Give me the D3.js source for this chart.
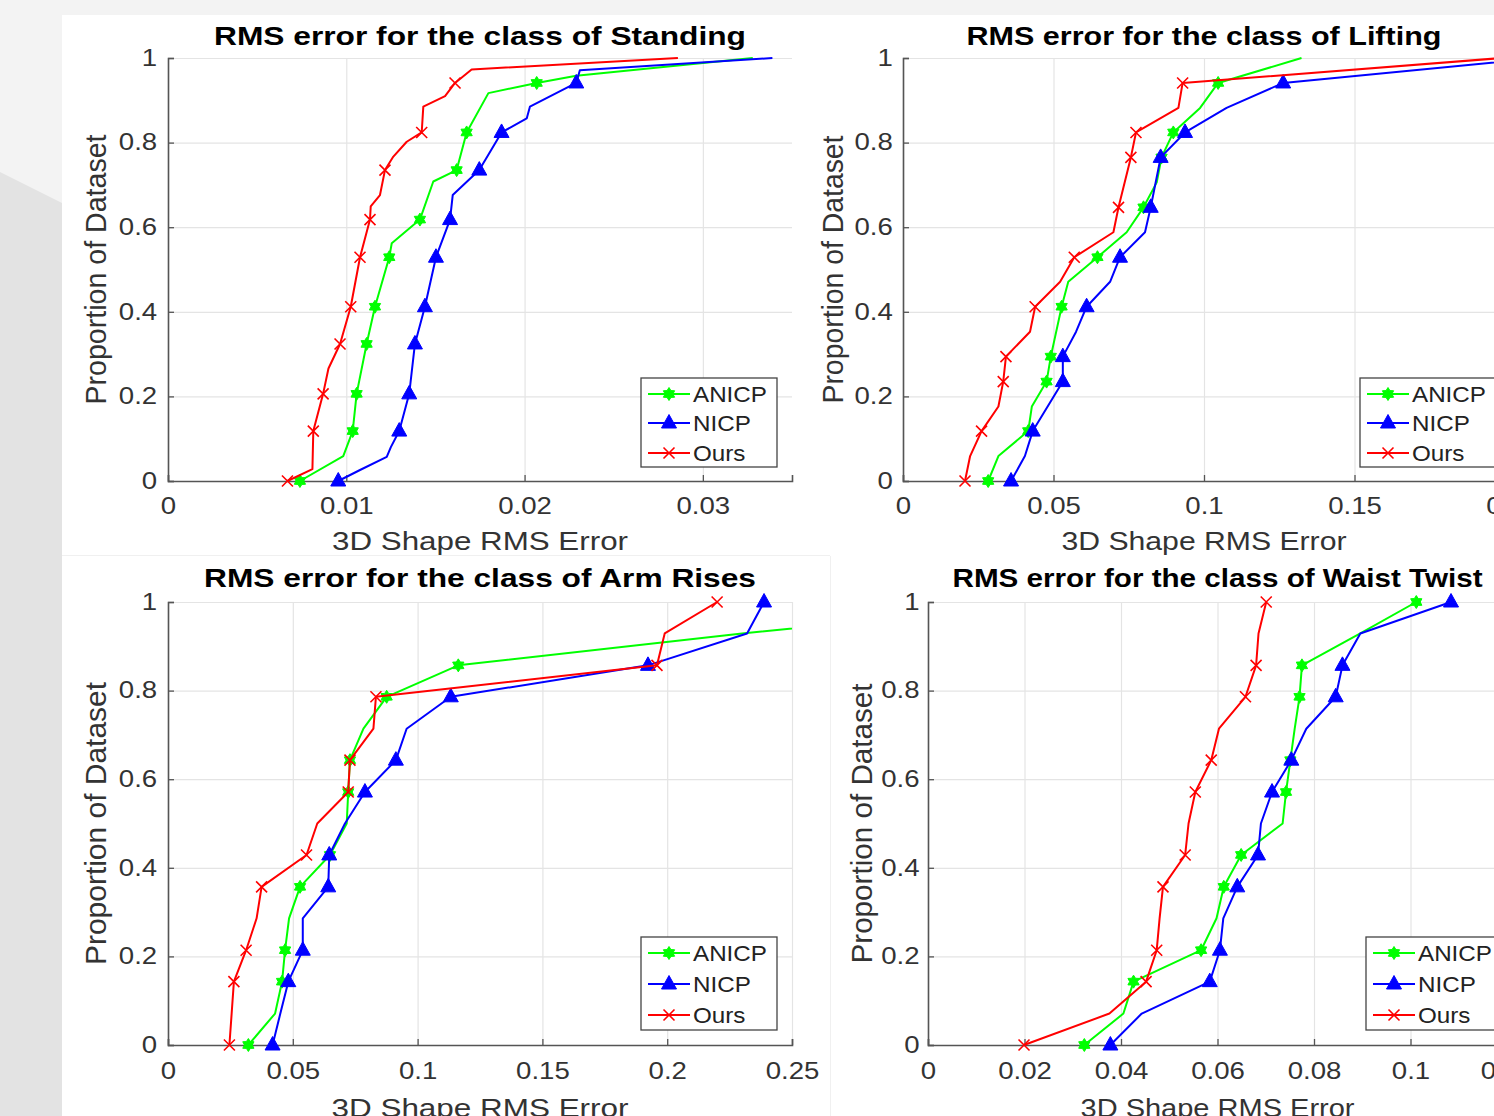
<!DOCTYPE html>
<html>
<head>
<meta charset="utf-8">
<script src="https://cdn.jsdelivr.net/npm/d3@7"></script>
<style>
html, body { margin: 0; padding: 0; background: #f3f3f3; }
svg { display: block; font-family: "Liberation Sans", Arial, Helvetica, sans-serif; }
</style>
</head>
<body>
<div id="chart"></div>
<script>
// Size of the page;
const W = 1494
const H = 1116

// Series names, in the legend's order;
const seriesNames = ["ANICP", "NICP", "Ours"]

// Y axis, shared by the four plots;
const yTicks = [0, 0.2, 0.4, 0.6, 0.8, 1]
const yTickLabels = ["0", "0.2", "0.4", "0.6", "0.8", "1"]

// Class of Standing;
const standingTicks = [0, 0.01, 0.02, 0.03]
const standingTickLabels = ["0", "0.01", "0.02", "0.03"]
const standingAnicp = [[0.0074, 0], [0.00983, 0.059], [0.01036, 0.118], [0.01058, 0.206], [0.01114, 0.324], [0.01161, 0.412], [0.01241, 0.529], [0.01255, 0.562], [0.01413, 0.618], [0.01488, 0.708], [0.01619, 0.735], [0.01675, 0.824], [0.01797, 0.917], [0.02068, 0.941], [0.0229, 0.958], [0.0328, 1]]
const standingAnicpMarks = [0, 2, 3, 4, 5, 6, 8, 10, 11, 13]
const standingNicp = [[0.00955, 0], [0.01077, 0.026], [0.01227, 0.057], [0.0125, 0.08], [0.01297, 0.118], [0.01353, 0.206], [0.01385, 0.324], [0.01441, 0.412], [0.01503, 0.529], [0.01582, 0.618], [0.01597, 0.676], [0.01746, 0.735], [0.01871, 0.824], [0.02012, 0.857], [0.0203, 0.885], [0.0229, 0.941], [0.0231, 0.971], [0.0339, 1]]
const standingNicpMarks = [0, 4, 5, 6, 7, 8, 9, 11, 12, 15]
const standingOurs = [[0.0067, 0], [0.0081, 0.028], [0.00815, 0.118], [0.0087, 0.206], [0.009, 0.266], [0.00965, 0.324], [0.01025, 0.412], [0.01077, 0.529], [0.01133, 0.618], [0.01137, 0.649], [0.01189, 0.676], [0.01217, 0.735], [0.01264, 0.767], [0.01339, 0.802], [0.01423, 0.824], [0.01432, 0.885], [0.01554, 0.91], [0.0161, 0.941], [0.01703, 0.973], [0.0286, 1]]
const standingOursMarks = [0, 2, 3, 5, 6, 7, 8, 11, 14, 17]

// Class of Lifting;
const liftingTicks = [0, 0.05, 0.1, 0.15, 0.2]
const liftingTickLabels = ["0", "0.05", "0.1", "0.15", "0.2"]
const liftingAnicp = [[0.0283, 0], [0.0317, 0.059], [0.0416, 0.118], [0.0428, 0.176], [0.0477, 0.235], [0.0491, 0.294], [0.0527, 0.412], [0.0549, 0.471], [0.0646, 0.529], [0.0743, 0.588], [0.0799, 0.647], [0.0843, 0.706], [0.0859, 0.765], [0.0898, 0.824], [0.0987, 0.882], [0.1047, 0.941], [0.1324, 1]]
const liftingAnicpMarks = [0, 2, 4, 5, 6, 8, 10, 12, 13, 15]
const liftingNicp = [[0.0359, 0], [0.0405, 0.059], [0.0431, 0.118], [0.0531, 0.235], [0.0531, 0.294], [0.0575, 0.353], [0.061, 0.412], [0.0688, 0.471], [0.0721, 0.529], [0.0804, 0.588], [0.0823, 0.647], [0.0856, 0.765], [0.0937, 0.824], [0.1075, 0.882], [0.1263, 0.941], [0.212, 1]]
const liftingNicpMarks = [0, 2, 3, 4, 6, 8, 10, 11, 12, 14]
const liftingOurs = [[0.0206, 0], [0.0223, 0.059], [0.0261, 0.118], [0.0317, 0.176], [0.0333, 0.235], [0.0342, 0.294], [0.0422, 0.353], [0.0439, 0.412], [0.0522, 0.471], [0.0569, 0.529], [0.0699, 0.588], [0.0716, 0.647], [0.0757, 0.765], [0.0774, 0.824], [0.0915, 0.882], [0.0929, 0.941], [0.199, 1]]
const liftingOursMarks = [0, 2, 4, 5, 7, 9, 11, 12, 13, 15]

// Class of Arm Rises;
const armTicks = [0, 0.05, 0.1, 0.15, 0.2, 0.25]
const armTickLabels = ["0", "0.05", "0.1", "0.15", "0.2", "0.25"]
const armAnicp = [[0.0322, 0], [0.0429, 0.071], [0.0457, 0.143], [0.0469, 0.214], [0.0485, 0.286], [0.0529, 0.357], [0.0649, 0.429], [0.0716, 0.5], [0.0722, 0.571], [0.0729, 0.643], [0.0783, 0.714], [0.0876, 0.786], [0.1163, 0.857], [0.23, 0.929], [0.36, 1]]
const armNicp = [[0.0419, 0], [0.045, 0.071], [0.0482, 0.143], [0.054, 0.214], [0.054, 0.286], [0.0642, 0.357], [0.0646, 0.429], [0.0709, 0.5], [0.0789, 0.571], [0.0913, 0.643], [0.0956, 0.714], [0.1133, 0.786], [0.1923, 0.857], [0.232, 0.929], [0.2388, 1]]
const armOurs = [[0.0246, 0], [0.0255, 0.071], [0.0264, 0.143], [0.0313, 0.214], [0.0355, 0.286], [0.0375, 0.357], [0.0555, 0.429], [0.0598, 0.5], [0.0722, 0.571], [0.0729, 0.643], [0.0823, 0.714], [0.0833, 0.786], [0.1959, 0.857], [0.199, 0.929], [0.22, 1]]

// Class of Waist Twist;
const waistTicks = [0, 0.02, 0.04, 0.06, 0.08, 0.1, 0.12]
const waistTickLabels = ["0", "0.02", "0.04", "0.06", "0.08", "0.1", "0.12"]
const waistAnicp = [[0.0324, 0], [0.0405, 0.071], [0.0426, 0.143], [0.0566, 0.214], [0.0598, 0.286], [0.0613, 0.357], [0.0649, 0.429], [0.0735, 0.5], [0.0742, 0.571], [0.0751, 0.643], [0.076, 0.714], [0.077, 0.786], [0.0775, 0.857], [0.0896, 0.929], [0.1012, 1]]
const waistNicp = [[0.0378, 0], [0.0443, 0.071], [0.0584, 0.143], [0.0605, 0.214], [0.0612, 0.286], [0.0641, 0.357], [0.0684, 0.429], [0.069, 0.5], [0.0713, 0.571], [0.0753, 0.643], [0.0784, 0.714], [0.0845, 0.786], [0.0859, 0.857], [0.0896, 0.929], [0.1084, 1]]
const waistOurs = [[0.0199, 0], [0.0376, 0.071], [0.0452, 0.143], [0.0474, 0.214], [0.048, 0.286], [0.0487, 0.357], [0.0533, 0.429], [0.054, 0.5], [0.0554, 0.571], [0.0587, 0.643], [0.0603, 0.714], [0.0658, 0.786], [0.068, 0.857], [0.0685, 0.929], [0.0701, 1]]

// Marker indices for the 15-point curves;
const marks15 = [0, 2, 3, 5, 6, 8, 9, 11, 12, 14]

/////////////////////////////
/////////////////////////////

// Styles;
const colors = ["#00ff00", "#0000ff", "#ff0000"]
const markerTypes = ["hexagram", "triangle", "cross"]
const textStretch = 1.2 // The screenshot is wider than it is tall;
const legendStretch = 1.1

// Panels: data + where each one sits on the page;
const panels = [
    {
        title: "RMS error for the class of Standing", xMax: 0.035, ticks: standingTicks, tickLabels: standingTickLabels,
        series: [[standingAnicp, standingAnicpMarks], [standingNicp, standingNicpMarks], [standingOurs, standingOursMarks]],
        x0: 168, x1: 792, yTop: 58, yBot: 481, titleY: 45, titleLen: 532, xlabY: 550, xlabLen: 296,
        ylabX: 96, ylabLen: 270, yPad: 9, xPad: 16.5, legX: 641, legY: 378, legH: 89, rows: [16, 45, 75]
    },
    {
        title: "RMS error for the class of Lifting", xMax: 0.2, ticks: liftingTicks, tickLabels: liftingTickLabels,
        series: [[liftingAnicp, liftingAnicpMarks], [liftingNicp, liftingNicpMarks], [liftingOurs, liftingOursMarks]],
        x0: 903, x1: 1505, yTop: 58, yBot: 481, titleY: 45, titleLen: 475, xlabY: 550, xlabLen: 285,
        ylabX: 833, ylabLen: 268, yPad: 8.5, xPad: 16.5, legX: 1360, legY: 378, legH: 89, rows: [16, 45, 75]
    },
    {
        title: "RMS error for the class of Arm Rises", xMax: 0.25, ticks: armTicks, tickLabels: armTickLabels,
        series: [[armAnicp, marks15], [armNicp, marks15], [armOurs, marks15]],
        x0: 168, x1: 792, yTop: 602, yBot: 1045, titleY: 587, titleLen: 552, xlabY: 1117, xlabLen: 297,
        ylabX: 96, ylabLen: 283, yPad: 9, xPad: 17.5, legX: 641, legY: 937, legH: 93, rows: [16, 47, 78]
    },
    {
        title: "RMS error for the class of Waist Twist", xMax: 0.12, ticks: waistTicks, tickLabels: waistTickLabels,
        series: [[waistAnicp, marks15], [waistNicp, marks15], [waistOurs, marks15]],
        x0: 928, x1: 1507, yTop: 602, yBot: 1045, titleY: 587, titleLen: 530, xlabY: 1117, xlabLen: 274,
        ylabX: 862, ylabLen: 280, yPad: 7, xPad: 17.5, legX: 1366, legY: 937, legH: 93, rows: [16, 47, 78]
    }
]

const svg = d3.select("#chart").append("svg")
    .attr("width", W)
    .attr("height", H)

// Slide background behind the figures;
svg.append("rect").attr("width", W).attr("height", H).attr("fill", "#f3f3f3")
svg.append("polygon").attr("points", "0,172 62,203 62,1116 0,1116").attr("fill", "#e3e3e3")
svg.append("rect").attr("x", 62).attr("y", 15).attr("width", W - 62).attr("height", H - 15).attr("fill", "#fff")
svg.append("line").attr("x1", 62).attr("x2", 830).attr("y1", 555.5).attr("y2", 555.5).attr("stroke", "#f0f0f0")
svg.append("line").attr("x1", 830.5).attr("x2", 830.5).attr("y1", 556).attr("y2", H).attr("stroke", "#f0f0f0")

/////////////////////////////
/////////////////////////////

// Marker shapes, centred on 0,0;
function hexagram(r) {
    const pts = []
    for (let i = 0; i < 12; i++) {
        const a = Math.PI / 6 * i - Math.PI / 2
        const rr = i % 2 ? r * 0.6 : r
        pts.push([rr * Math.cos(a), rr * Math.sin(a)])
    }
    return "M" + pts.map(p => p[0].toFixed(2) + "," + p[1].toFixed(2)).join("L") + "Z"
}
const markerPath = {
    hexagram: hexagram(6.5),
    triangle: "M0,-8.5L7.5,5L-7.5,5Z",
    cross: "M-5.5,-5.5L5.5,5.5M5.5,-5.5L-5.5,5.5"
}

var markerStyle = (sel, type, color) => {
    if (type == "cross") {
        sel.attr("fill", "none").attr("stroke", color).attr("stroke-width", 1.6)
    } else {
        sel.attr("fill", color).attr("stroke", color).attr("stroke-width", 1)
    }
}

var stretchText = (sel, k) => sel.attr("transform", `scale(${k || textStretch},1)`)

panels.forEach((p, pi) => {
    const g = svg.append("g")

    const x = d3.scaleLinear().domain([0, p.xMax]).range([p.x0, p.x1])
    const y = d3.scaleLinear().domain([0, 1]).range([p.yBot, p.yTop])

    // Grid lines;
    g.append("g")
        .attr("transform", `translate(0,${p.yBot})`)
        .call(d3.axisBottom(x).tickValues(p.ticks).tickSize(-(p.yBot - p.yTop)).tickFormat(""))
        .call(a => a.select(".domain").remove())
        .call(a => a.selectAll("line").attr("stroke", "#e4e4e4").attr("stroke-width", 1.2))
    g.append("g")
        .attr("transform", `translate(${p.x0},0)`)
        .call(d3.axisLeft(y).tickValues(yTicks).tickSize(-(p.x1 - p.x0)).tickFormat(""))
        .call(a => a.select(".domain").remove())
        .call(a => a.selectAll("line").attr("stroke", "#e4e4e4").attr("stroke-width", 1.2))

    // Axes with ticks pointing inwards;
    const xAxis = g.append("g")
        .attr("transform", `translate(0,${p.yBot})`)
        .call(d3.axisBottom(x).tickValues(p.ticks).tickSize(-6).tickPadding(p.xPad)
            .tickFormat((d, i) => p.tickLabels[i]))
    const yAxis = g.append("g")
        .attr("transform", `translate(${p.x0},0)`)
        .call(d3.axisLeft(y).tickValues(yTicks).tickSize(-6).tickPadding(p.yPad)
            .tickFormat((d, i) => yTickLabels[i]))
    ;[xAxis, yAxis].forEach(a => {
        a.attr("font-family", null).attr("font-size", null)
        a.select(".domain").attr("stroke", "#555").attr("stroke-width", 1.6)
        a.selectAll(".tick line").attr("stroke", "#555").attr("stroke-width", 1.3)
        a.selectAll(".tick text").attr("fill", "#333").style("font-size", "23px").call(stretchText)
    })

    // Curves, clipped to the axes box;
    const clipId = "clip" + pi
    svg.append("clipPath").attr("id", clipId).append("rect")
        .attr("x", p.x0).attr("y", p.yTop - 2).attr("width", p.x1 - p.x0).attr("height", p.yBot - p.yTop + 4)

    const line = d3.line().x(d => x(d[0])).y(d => y(d[1]))

    p.series.forEach(([pts, marks], si) => {
        g.append("path")
            .datum(pts)
            .attr("clip-path", `url(#${clipId})`)
            .attr("fill", "none")
            .attr("stroke", colors[si])
            .attr("stroke-width", 2)
            .attr("stroke-linejoin", "round")
            .attr("d", line)

        const shown = marks.map(i => pts[i]).filter(d => d[0] <= p.xMax)
        g.append("g").selectAll("path")
            .data(shown)
            .join("path")
            .attr("d", markerPath[markerTypes[si]])
            .attr("transform", d => `translate(${x(d[0])},${y(d[1])})`)
            .call(markerStyle, markerTypes[si], colors[si])
    })

    // Title and axis labels;
    g.append("text")
        .attr("x", (p.x0 + p.x1) / 2).attr("y", p.titleY)
        .attr("text-anchor", "middle")
        .attr("font-weight", "bold").attr("font-size", 26).attr("fill", "#000")
        .attr("textLength", p.titleLen).attr("lengthAdjust", "spacingAndGlyphs")
        .text(p.title)
    g.append("text")
        .attr("x", (p.x0 + p.x1) / 2).attr("y", p.xlabY)
        .attr("text-anchor", "middle")
        .attr("font-size", 25).attr("fill", "#333")
        .attr("textLength", p.xlabLen).attr("lengthAdjust", "spacingAndGlyphs")
        .text("3D Shape RMS Error")
    g.append("text")
        .attr("transform", `translate(${p.ylabX},${(p.yTop + p.yBot) / 2}) scale(${textStretch},1) rotate(-90)`)
        .attr("text-anchor", "middle").attr("dy", "0.36em")
        .attr("font-size", 24).attr("fill", "#333")
        .attr("textLength", p.ylabLen).attr("lengthAdjust", "spacingAndGlyphs")
        .text("Proportion of Dataset")

    // Legend;
    const leg = g.append("g").attr("transform", `translate(${p.legX},${p.legY})`)
    leg.append("rect")
        .attr("width", 136).attr("height", p.legH)
        .attr("fill", "#fff").attr("stroke", "#444").attr("stroke-width", 1.3)
    seriesNames.forEach((name, si) => {
        const row = leg.append("g").attr("transform", `translate(0,${p.rows[si]})`)
        row.append("line").attr("x1", 7).attr("x2", 49)
            .attr("stroke", colors[si]).attr("stroke-width", 2)
        row.append("path").attr("d", markerPath[markerTypes[si]])
            .attr("transform", "translate(28,0)")
            .call(markerStyle, markerTypes[si], colors[si])
        row.append("g").attr("transform", "translate(52,0)")
            .append("text").attr("dy", "0.36em")
            .attr("font-size", 22).attr("fill", "#222")
            .call(stretchText, legendStretch)
            .text(name)
    })
})
</script>
</body>
</html>
